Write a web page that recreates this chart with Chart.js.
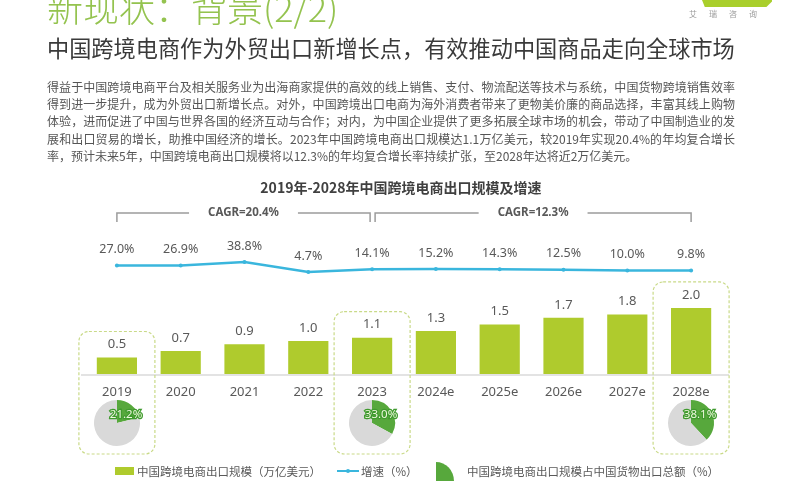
<!DOCTYPE html>
<html>
<head>
<meta charset="utf-8">
<script src="https://cdn.jsdelivr.net/npm/chart.js@4.4.1/dist/chart.umd.min.js"></script>
<style>
  body { margin: 0; background: #fff; }
  #page { position: relative; width: 800px; height: 500px; overflow: hidden; background: #fff;
          font-family: "Noto Sans CJK SC", "Noto Sans", sans-serif; }
  .abs { position: absolute; white-space: nowrap; }
  #title { left: 47px; top: -12px; font-size: 36px; line-height: 36px; color: #94c34f; font-weight: 300; }
  #subtitle { left: 47px; top: 36px; font-size: 22.2px; line-height: 22px; color: #3a3a3a; }
  #para { left: 47px; top: 78px; width: 688px; font-size: 12px; line-height: 17.2px; color: #555; }
  #para div { text-align: justify; text-align-last: justify; white-space: normal; }
  #para div.last { text-align-last: left; }
  #chartTitle { left: 0; top: 178px; width: 802px; text-align: center; font-size: 14px; line-height: 18px;
                font-weight: bold; color: #404040; }
  #logo { left: 702px; top: 0; width: 70px; height: 7px; background: #a9cf2c;
          clip-path: polygon(0 0, 100% 0, 100% 20%, 92% 100%, 4% 100%); }
  #logoText { left: 689px; top: 8px; font-size: 8px; line-height: 12px; letter-spacing: 12px; color: #9a9a9a; }
  .legText { top: 463px; font-size: 11.5px; line-height: 16px; color: #595959; }
  canvas { position: absolute; }
</style>
</head>
<body>
<div id="page">
  <canvas id="main" width="800" height="500" style="left:0;top:0"></canvas>

  <div class="abs" id="title">新现状：背景(2/2)</div>
  <div class="abs" id="logo"></div>
  <div class="abs" id="logoText">艾瑞咨询</div>
  <div class="abs" id="subtitle">中国跨境电商作为外贸出口新增长点，有效推动中国商品走向全球市场</div>
  <div class="abs" id="para">
    <div>得益于中国跨境电商平台及相关服务业为出海商家提供的高效的线上销售、支付、物流配送等技术与系统，中国货物跨境销售效率</div>
    <div>得到进一步提升，成为外贸出口新增长点。对外，中国跨境出口电商为海外消费者带来了更物美价廉的商品选择，丰富其线上购物</div>
    <div>体验，进而促进了中国与世界各国的经济互动与合作；对内，为中国企业提供了更多拓展全球市场的机会，带动了中国制造业的发</div>
    <div>展和出口贸易的增长，助推中国经济的增长。2023年中国跨境电商出口规模达1.1万亿美元，较2019年实现20.4%的年均复合增长</div>
    <div class="last">率，预计未来5年，中国跨境电商出口规模将以12.3%的年均复合增长率持续扩张，至2028年达将近2万亿美元。</div>
  </div>
  <div class="abs" id="chartTitle">2019年-2028年中国跨境电商出口规模及增速</div>

  <!-- legend -->
  <div class="abs" style="left:115px;top:467px;width:19px;height:8px;background:#afcb2d"></div>
  <div class="abs legText" style="left:137px">中国跨境电商出口规模（万亿美元）</div>
  <div class="abs" style="left:337px;top:470px;width:22px;height:2px;background:#3ab6dd"></div>
  <div class="abs" style="left:346px;top:469px;width:4px;height:4px;border-radius:2px;background:#3ab6dd"></div>
  <div class="abs legText" style="left:361px">增速（%）</div>
  <div class="abs" style="left:436px;top:462px;width:18px;height:19px;background:#57a83c;border-top-right-radius:100%"></div>
  <div class="abs legText" style="left:467px">中国跨境电商出口规模占中国货物出口总额（%）</div>
</div>

<script>
const years = ['2019', '2020', '2021', '2022', '2023', '2024e', '2025e', '2026e', '2027e', '2028e'];
const exportScale = [0.5, 0.7, 0.9, 1.0, 1.1, 1.3, 1.5, 1.7, 1.8, 2.0];
const growthRate = [27.0, 26.9, 38.8, 4.7, 14.1, 15.2, 14.3, 12.5, 10.0, 9.8];
const shareYears = [0, 4, 9];
const shareOfExports = [21.2, 33.0, 38.1];
const cagrLabels = ['CAGR=20.4%', 'CAGR=12.3%'];
const cagrSpans = [[0, 4], [4, 9]];

const barColor = '#afcb2d';
const lineColor = '#3ab6dd';
const pieGreen = '#57a83c';
const pieGray = '#d9d9d9';
const textColor = '#595959';
const numFont = '"Noto Sans", sans-serif';

function roundRect(ctx, x, y, w, h, r) {
  ctx.beginPath();
  ctx.moveTo(x + r, y);
  ctx.lineTo(x + w - r, y);
  ctx.arcTo(x + w, y, x + w, y + r, r);
  ctx.lineTo(x + w, y + h - r);
  ctx.arcTo(x + w, y + h, x + w - r, y + h, r);
  ctx.lineTo(x + r, y + h);
  ctx.arcTo(x, y + h, x, y + h - r, r);
  ctx.lineTo(x, y + r);
  ctx.arcTo(x, y, x + r, y, r);
  ctx.closePath();
}

const decor = {
  id: 'decor',
  beforeDatasetsDraw(chart) {
    const ctx = chart.ctx;
    const area = chart.chartArea;
    const x = chart.scales.x;
    const y = chart.scales.y;
    ctx.save();
    // baseline
    ctx.strokeStyle = '#e3e3e3';
    ctx.lineWidth = 2;
    ctx.beginPath();
    ctx.moveTo(area.left - 4, area.bottom + 1);
    ctx.lineTo(area.right + 6, area.bottom + 1);
    ctx.stroke();
    // dashed highlight boxes
    ctx.strokeStyle = '#c9da88';
    ctx.lineWidth = 1.2;
    ctx.setLineDash([3, 2]);
    shareYears.forEach(i => {
      const cx = x.getPixelForValue(i);
      const top = y.getPixelForValue(exportScale[i]) - 26;
      roundRect(ctx, cx - 38, top, 76, area.bottom + 80 - top, 10);
      ctx.stroke();
    });
    ctx.restore();
  },
  afterDatasetsDraw(chart) {
    const ctx = chart.ctx;
    const area = chart.chartArea;
    const x = chart.scales.x;
    const y = chart.scales.y;
    const y1 = chart.scales.y1;
    ctx.save();
    ctx.fillStyle = textColor;
    ctx.textAlign = 'center';
    ctx.textBaseline = 'middle';

    years.forEach((yr, i) => {
      const cx = x.getPixelForValue(i);
      ctx.font = '13px ' + numFont;
      ctx.fillText(yr, cx, area.bottom + 18);
      ctx.fillText(exportScale[i].toFixed(1), cx, y.getPixelForValue(exportScale[i]) - 13);
      ctx.font = '12.5px ' + numFont;
      ctx.fillText(growthRate[i].toFixed(1) + '%', cx, y1.getPixelForValue(growthRate[i]) - 16);
    });

    // CAGR brackets
    const by = area.top + 13;
    ctx.strokeStyle = '#9c9c9c';
    ctx.lineWidth = 1.5;
    ctx.font = 'bold 11.5px ' + numFont;
    cagrSpans.forEach((span, k) => {
      const xa = x.getPixelForValue(span[0]) + (k === 0 ? 0 : 3);
      const xb = x.getPixelForValue(span[1]) - (k === 0 ? 2 : 0);
      const mid = (xa + xb) / 2;
      const half = ctx.measureText(cagrLabels[k]).width / 2 + 19;
      ctx.beginPath();
      ctx.moveTo(xa, by + 9);
      ctx.lineTo(xa, by);
      ctx.lineTo(mid - half, by);
      ctx.moveTo(mid + half, by);
      ctx.lineTo(xb, by);
      ctx.lineTo(xb, by + 9);
      ctx.stroke();
      ctx.fillText(cagrLabels[k], mid, by);
    });
    ctx.restore();
  }
};

const mainChart = new Chart(document.getElementById('main'), {
  type: 'bar',
  data: {
    labels: years,
    datasets: [
      {
        type: 'line',
        label: '增速（%）',
        data: growthRate,
        yAxisID: 'y1',
        borderColor: lineColor,
        backgroundColor: lineColor,
        borderWidth: 2.5,
        pointRadius: 2,
        pointBorderWidth: 0,
        tension: 0,
        order: 0
      },
      {
        type: 'bar',
        label: '中国跨境电商出口规模（万亿美元）',
        data: exportScale,
        yAxisID: 'y',
        backgroundColor: barColor,
        barPercentage: 0.63,
        categoryPercentage: 1,
        order: 1
      }
    ]
  },
  options: {
    responsive: false,
    animation: false,
    layout: { padding: { top: 200, bottom: 126, left: 85, right: 77 } },
    plugins: { legend: { display: false }, tooltip: { enabled: false } },
    scales: {
      x: { display: false },
      y: { display: false, min: 0, max: 5.27 },
      y1: { display: false, min: -345, max: 251.6 }
    }
  },
  plugins: [decor]
});

// share-of-exports pies under the highlighted years
const pieLabel = {
  id: 'pieLabel',
  afterDraw(chart) {
    const arc = chart.getDatasetMeta(0).data[0];
    const ctx = chart.ctx;
    ctx.save();
    ctx.font = '11.5px ' + numFont;
    ctx.textAlign = 'center';
    ctx.textBaseline = 'middle';
    ctx.lineWidth = 2.5;
    ctx.strokeStyle = '#3f9a2e';
    ctx.fillStyle = '#eef8dc';
    const t = chart.data.datasets[0].data[0].toFixed(1) + '%';
    ctx.strokeText(t, arc.x + 9, arc.y - 8);
    ctx.fillText(t, arc.x + 9, arc.y - 8);
    ctx.restore();
  }
};

const page = document.getElementById('page');
shareYears.forEach((idx, k) => {
  const cv = document.createElement('canvas');
  cv.width = 60;
  cv.height = 56;
  cv.style.left = (mainChart.scales.x.getPixelForValue(idx) - 30) + 'px';
  cv.style.top = '395px';
  page.appendChild(cv);
  new Chart(cv, {
    type: 'pie',
    data: {
      labels: ['占比', '其他'],
      datasets: [{
        data: [shareOfExports[k], 100 - shareOfExports[k]],
        backgroundColor: [pieGreen, pieGray],
        borderWidth: 0
      }]
    },
    options: {
      responsive: false,
      animation: false,
      layout: { padding: 5 },
      plugins: { legend: { display: false }, tooltip: { enabled: false } }
    },
    plugins: [pieLabel]
  });
});
</script>
</body>
</html>
